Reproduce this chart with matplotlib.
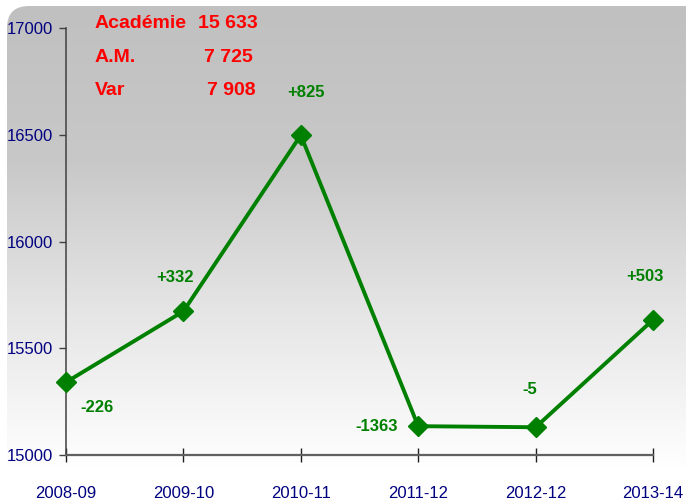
"""Académie enrollment chart, 2008-09 to 2013-14."""

import matplotlib
matplotlib.use("Agg")
import matplotlib.pyplot as plt
import numpy as np
from matplotlib.patches import FancyBboxPatch

years = ["2008-09", "2009-10", "2010-11", "2011-12", "2012-12", "2013-14"]
values = [15341, 15673, 16498, 15135, 15130, 15633]
changes = ["-226", "+332", "+825", "-1363", "-5", "+503"]

summary_labels = ["Académie", "A.M.", "Var"]
summary_values = ["15 633", "7 725", "7 908"]

GREEN = "#008000"
NAVY = "#000080"
RED = "#FF0000"

plt.rcParams["font.family"] = ["Liberation Sans Narrow", "Liberation Sans", "DejaVu Sans"]

fig = plt.figure(figsize=(6.86, 5.0), dpi=100)

# Background: rounded box with a grey-to-white vertical gradient
bg = fig.add_axes([0, 0, 1, 1], zorder=0)
bg.set_xlim(0, 686)
bg.set_ylim(500, 0)
bg.axis("off")
grad = np.linspace(0, 1, 256).reshape(-1, 1)
cmap = matplotlib.colors.LinearSegmentedColormap.from_list(
    "g", ["#C0C0C0", "#C8C8C8", "#E6E6E6", "#FFFFFF"])
img = bg.imshow(grad, extent=(7, 686, 470, 6), cmap=cmap, aspect="auto")
box = FancyBboxPatch((7, 6), 700, 520, boxstyle="round,pad=0,rounding_size=22",
                     facecolor="none", edgecolor="none", transform=bg.transData)
bg.add_patch(box)
img.set_clip_path(box)

ax = fig.add_axes([66 / 686, 45 / 500, (653 - 66) / 686, (455 - 28) / 500], zorder=1)
ax.patch.set_alpha(0)

x = np.arange(len(years))
ax.plot(x, values, color=GREEN, linewidth=2.8, marker="D", markersize=10,
        markerfacecolor=GREEN, markeredgecolor=GREEN, zorder=3, clip_on=False)

# change labels around each point (offsets in points)
offsets = [(22, -18), (-6, 24), (4, 31), (-30, 0), (-4, 27), (-6, 31)]
for xi, v, c, (dx, dy) in zip(x, values, changes, offsets):
    ax.annotate(c, (xi, v), xytext=(dx, dy), textcoords="offset points",
                ha="center", va="center", color=GREEN, fontsize=12, fontweight="bold")

ax.set_xlim(0, 5)
ax.set_ylim(15000, 17000)
ax.set_yticks([15000, 15500, 16000, 16500, 17000])
ax.set_xticks(x)
ax.set_xticklabels(years)

for side in ["top", "right"]:
    ax.spines[side].set_visible(False)
ax.spines["left"].set_color("#404040")
ax.spines["left"].set_linewidth(1.1)
ax.spines["bottom"].set_color("#606060")
ax.spines["bottom"].set_linewidth(1.6)

ax.tick_params(axis="y", direction="out", length=5, width=1, color="#404040",
               labelcolor=NAVY, labelsize=12, pad=4)
ax.tick_params(axis="x", direction="inout", length=10, width=1, color="#202020",
               labelcolor=NAVY, labelsize=12, pad=17)

# summary text block in the top-left corner
label_y = [24, 57, 91]
value_right = [258, 253, 256]
for lab, val, yy, xr in zip(summary_labels, summary_values, label_y, value_right):
    fig.text(95 / 686, 1 - yy / 500, lab, color=RED, fontsize=14, fontweight="bold",
             ha="left", va="center")
    fig.text(xr / 686, 1 - yy / 500, val, color=RED, fontsize=14, fontweight="bold",
             ha="right", va="center")

fig.savefig("out.png", dpi=100)
